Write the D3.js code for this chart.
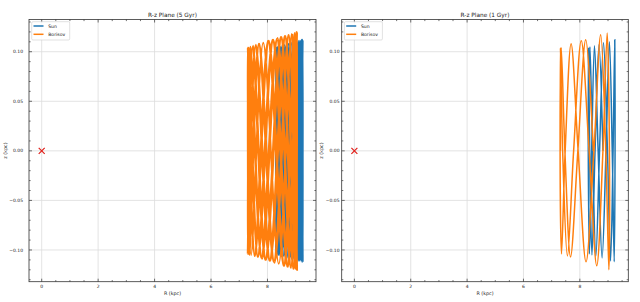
<!DOCTYPE html>
<html>
<head>
<meta charset="utf-8">
<script src="https://cdn.jsdelivr.net/npm/d3@7"></script>
<style>
  body { margin: 0; background: #fff; }
  text { font-family: "DejaVu Sans", sans-serif; fill: #222; }
</style>
</head>
<body>
<script>
// orbit samples (R in kpc, z in kpc)
// 5 Gyr panel: vertical turning points, alternating top / bottom
const sunR5 = [8.36,8.57,8.84,9.09,9.24,9.22,9.05,8.79,8.52,8.34,
  8.31,8.43,8.68,8.95,9.17,9.25,9.17,8.95,8.68,8.43,
  8.31,8.34,8.52,8.79,9.05,9.22,9.24,9.09,8.84,8.57,
  8.36,8.30,8.40,8.63,8.91,9.14,9.25,9.19,9.00,8.73,
  8.47,8.32,8.32,8.48,8.74,9.01,9.20,9.25,9.13,8.89,
  8.61,8.39,8.30,8.37,8.58,8.86,9.11,9.24,9.22,9.04,
  8.78,8.51,8.33,8.31,8.45];
const sunZ5 = [0.105,-0.106,0.109,-0.111,0.112,-0.112,0.110,-0.108,0.106,-0.104,
  0.104,-0.105,0.107,-0.109,0.111,-0.112,0.111,-0.109,0.107,-0.105,
  0.104,-0.104,0.106,-0.108,0.110,-0.112,0.112,-0.111,0.109,-0.106,
  0.105,-0.104,0.105,-0.107,0.109,-0.111,0.112,-0.111,0.110,-0.108,
  0.105,-0.104,0.104,-0.106,0.108,-0.110,0.112,-0.112,0.111,-0.109,
  0.107,-0.105,0.104,-0.105,0.106,-0.109,0.111,-0.112,0.112,-0.110,
  0.108,-0.106,0.104,-0.104,0.105];
const borR5 = [7.31,7.56,8.05,8.60,8.97,9.03,8.74,8.22,7.69,7.35,
  7.34,7.67,8.21,8.73,9.02,8.98,8.61,8.07,7.57,7.31,
  7.40,7.81,8.36,8.84,9.05,8.91,8.47,7.92,7.47,7.30,
  7.49,7.95,8.50,8.93,9.05,8.82,8.33,7.78,7.39,7.32,
  7.59,8.10,8.64,8.99,9.02,8.70,8.18,7.65,7.33,7.36,
  7.71,8.25,8.76,9.03,8.96,8.57,8.02,7.54,7.30,7.42,
  7.85,8.40,8.86,9.05,8.88];
const borZ5 = [0.104,-0.106,0.111,-0.116,0.119,-0.120,0.117,-0.112,0.108,-0.104,
  0.104,-0.107,0.112,-0.117,0.120,-0.119,0.116,-0.111,0.106,-0.104,
  0.105,-0.109,0.114,-0.118,0.120,-0.119,0.115,-0.110,0.105,-0.104,
  0.106,-0.110,0.115,-0.119,0.120,-0.118,0.113,-0.108,0.105,-0.104,
  0.107,-0.111,0.116,-0.119,0.120,-0.117,0.112,-0.107,0.104,-0.105,
  0.108,-0.113,0.117,-0.120,0.119,-0.116,0.111,-0.106,0.104,-0.105,
  0.109,-0.114,0.118,-0.120,0.118];

// 1 Gyr panel: turning points plus plane crossings
const sunR1 = [8.31,8.36,8.45,8.57,8.70,8.84,8.98,9.09,9.18,9.24,9.25,9.22,9.15,9.05,
  8.93,8.79,8.65,8.52,8.42,8.34,8.30,8.31,8.35,8.43,8.54,8.68,8.82];
const sunZ1 = [0,0.105,0,-0.106,0,0.109,0,-0.111,0,0.112,0,-0.112,0,0.110,
  0,-0.108,0,0.106,0,-0.104,0,0.104,0,-0.105,0,0.107,0];
const borR1 = [7.31,7.31,7.39,7.56,7.78,8.05,8.33,8.60,8.82,8.97,9.05,9.03,8.92,8.74,
  8.50,8.22,7.94,7.69,7.48,7.35,7.30,7.34,7.47,7.67,7.93,8.21,8.48];
const borZ1 = [0,0.104,0,-0.106,0,0.111,0,-0.116,0,0.119,0,-0.120,0,0.117,
  0,-0.112,0,0.108,0,-0.104,0,0.104,0,-0.107,0,0.112,0];

const centre = [[0, 0]];
const xTicks = [0, 2, 4, 6, 8];
const yTicks = [-0.10, -0.05, 0.00, 0.05, 0.10];
const seriesNames = ["Sun", "Borisov"];
const colors = ["#1f77b4", "#ff7f0e"];

const W = 640, H = 302;
const svg = d3.select("body").append("svg").attr("width", W).attr("height", H);

const panels = [
  {title: "R-z Plane (5 Gyr)", left: 29, right: 316, labX: 23, yLabX: 5, lw: 1.9,
   sun: d3.zip(sunR5, sunZ5), bor: d3.zip(borR5, borZ5)},
  {title: "R-z Plane (1 Gyr)", left: 341.7, right: 628.3, labX: 339.5, yLabX: 321, lw: 1.5,
   sun: d3.zip(sunR1, sunZ1), bor: d3.zip(borR1, borZ1)}
];
const axTop = 19.5, axBot = 281.7;

panels.forEach(function (p, i) {
  const x = d3.scaleLinear().domain([-0.45, 9.72]).range([p.left, p.right]);
  const y = d3.scaleLinear().domain([-0.132, 0.1325]).range([axBot, axTop]);
  const g = svg.append("g");

  // grid
  g.append("g").selectAll("line").data(xTicks).join("line")
    .attr("x1", d => x(d)).attr("x2", d => x(d)).attr("y1", axTop).attr("y2", axBot)
    .attr("stroke", "#dcdcdc").attr("stroke-width", 0.8);
  g.append("g").selectAll("line").data(yTicks).join("line")
    .attr("y1", d => y(d)).attr("y2", d => y(d)).attr("x1", p.left).attr("x2", p.right)
    .attr("stroke", "#dcdcdc").attr("stroke-width", 0.8);

  svg.append("clipPath").attr("id", "clip" + i).append("rect")
    .attr("x", p.left).attr("y", axTop).attr("width", p.right - p.left).attr("height", axBot - axTop);

  const line = d3.line().x(d => x(d[0])).y(d => y(d[1])).curve(d3.curveCatmullRom.alpha(0.5));
  const plot = g.append("g").attr("clip-path", `url(#clip${i})`);
  plot.append("path").attr("d", line(p.sun)).attr("fill", "none")
    .attr("stroke", colors[0]).attr("stroke-width", p.lw);
  plot.append("path").attr("d", line(p.bor)).attr("fill", "none")
    .attr("stroke", colors[1]).attr("stroke-width", p.lw);

  // galactic centre marker
  const s = 3;
  plot.selectAll(".mk").data(centre).join("path")
    .attr("d", d => `M${x(d[0]) - s},${y(d[1]) - s}L${x(d[0]) + s},${y(d[1]) + s}M${x(d[0]) - s},${y(d[1]) + s}L${x(d[0]) + s},${y(d[1]) - s}`)
    .attr("stroke", "#e0201b").attr("stroke-width", 1.2);

  // ticks on all sides, pointing in
  const xMinor = d3.range(0, 9.75, 0.5).filter(v => v % 2 !== 0);
  const yMinor = d3.range(-13, 14).map(v => v / 100).filter(v => Math.round(v * 100) % 5 !== 0);
  const tk = g.append("g").attr("stroke", "#333").attr("stroke-width", 0.7);
  [[xTicks, 3], [xMinor, 1.6]].forEach(function ([vals, len]) {
    vals.forEach(function (v) {
      tk.append("line").attr("x1", x(v)).attr("x2", x(v)).attr("y1", axBot).attr("y2", axBot - len);
      tk.append("line").attr("x1", x(v)).attr("x2", x(v)).attr("y1", axTop).attr("y2", axTop + len);
    });
  });
  [[yTicks, 3], [yMinor, 1.6]].forEach(function ([vals, len]) {
    vals.forEach(function (v) {
      tk.append("line").attr("y1", y(v)).attr("y2", y(v)).attr("x1", p.left).attr("x2", p.left + len);
      tk.append("line").attr("y1", y(v)).attr("y2", y(v)).attr("x1", p.right).attr("x2", p.right - len);
    });
  });

  g.append("rect").attr("x", p.left).attr("y", axTop).attr("width", p.right - p.left)
    .attr("height", axBot - axTop).attr("fill", "none").attr("stroke", "#333").attr("stroke-width", 0.8);

  // tick labels
  const f = d3.format(".2f");
  g.append("g").selectAll("text").data(xTicks).join("text")
    .attr("x", d => x(d)).attr("y", 287.5).attr("text-anchor", "middle")
    .style("font-size", "4.5px").text(d => d);
  g.append("g").selectAll("text").data(yTicks).join("text")
    .attr("x", p.labX).attr("y", d => y(d) + 1.6).attr("text-anchor", "end")
    .style("font-size", "4.5px").text(d => f(d));

  g.append("text").attr("x", (p.left + p.right) / 2).attr("y", 17)
    .attr("text-anchor", "middle").style("font-size", "5.8px").text(p.title);
  g.append("text").attr("x", (p.left + p.right) / 2).attr("y", 294.5)
    .attr("text-anchor", "middle").style("font-size", "4.8px").text("R (kpc)");
  g.append("text").attr("transform", `translate(${p.yLabX + 1.5},${(axTop + axBot) / 2}) rotate(-90)`)
    .attr("text-anchor", "middle").style("font-size", "4.8px").text("z (kpc)");

  // legend
  const lg = g.append("g").attr("transform", `translate(${p.left + 2.7},${axTop + 2.2})`);
  lg.append("rect").attr("width", 38).attr("height", 18.3).attr("rx", 1.2)
    .attr("fill", "#fff").attr("fill-opacity", 0.85).attr("stroke", "#ccc").attr("stroke-width", 0.6);
  seriesNames.forEach(function (n, k) {
    const yy = 4.3 + k * 8.3;
    lg.append("line").attr("x1", 1.8).attr("x2", 11.8).attr("y1", yy).attr("y2", yy)
      .attr("stroke", colors[k]).attr("stroke-width", 1.5);
    lg.append("text").attr("x", 16.5).attr("y", yy + 1.6).style("font-size", "4.6px").text(n);
  });
});
</script>
</body>
</html>
